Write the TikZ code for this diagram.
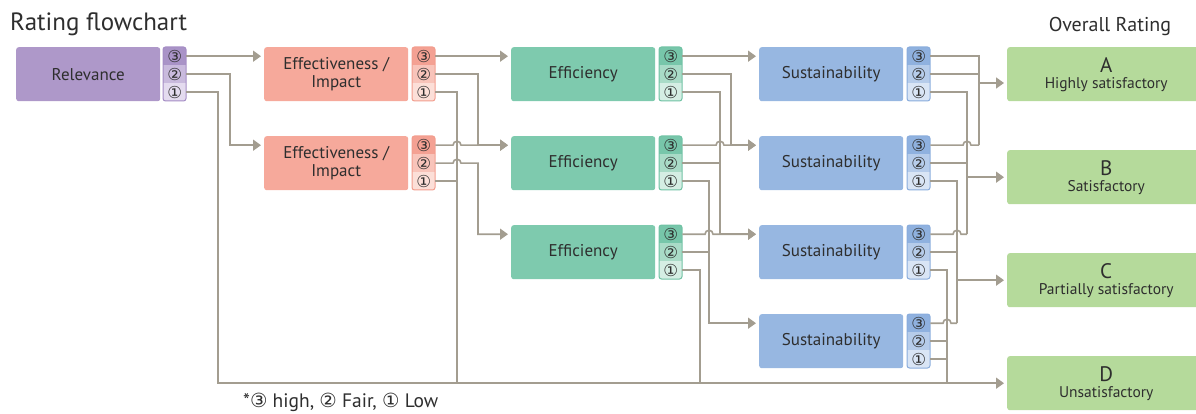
\documentclass[tikz,border=0pt]{standalone}
\usepackage{fontspec}
\setmainfont{PT Sans}
\newfontfamily\dvs{DejaVu Sans}
\usetikzlibrary{arrows.meta,calc}
\definecolor{txt}{HTML}{2E2E2E}
\definecolor{ln}{HTML}{A39D90}
\definecolor{relF}{HTML}{AE98C9}\definecolor{relB}{HTML}{A48CC4}
\definecolor{relC}{HTML}{A993C7}\definecolor{relD}{HTML}{C9BADD}\definecolor{relE}{HTML}{E4DBEF}
\definecolor{eiF}{HTML}{F6A99B}\definecolor{eiB}{HTML}{F29D8D}
\definecolor{eiC}{HTML}{F4A193}\definecolor{eiD}{HTML}{F8C4BA}\definecolor{eiE}{HTML}{FCDFD8}
\definecolor{efF}{HTML}{7ECAAE}\definecolor{efB}{HTML}{6FC2A3}
\definecolor{efC}{HTML}{77C6AA}\definecolor{efD}{HTML}{A9DBC7}\definecolor{efE}{HTML}{D5EEE4}
\definecolor{suF}{HTML}{97B7E1}\definecolor{suB}{HTML}{89ACDC}
\definecolor{suC}{HTML}{8FB1DF}\definecolor{suD}{HTML}{B6CCEA}\definecolor{suE}{HTML}{D9E5F5}
\definecolor{rtF}{HTML}{B5DA9B}
\newcommand\mkbadge[4]{%
  \begin{scope}
    \clip[rounded corners=2.5pt] (#2,#3) rectangle ++(23,54);
    \node[badge,fill=#4C] (#1r3) at (#2,#3) {③};
    \node[badge,fill=#4D] (#1r2) at (#2,#3+18) {②};
    \node[badge,fill=#4E] (#1r1) at (#2,#3+36) {①};
  \end{scope}
  \draw[draw=#4B, line width=1pt, rounded corners=2.5pt] (#2,#3) rectangle ++(23,54);
}
\begin{document}
\begin{tikzpicture}[x=1pt,y=-1pt,
  box/.style={rounded corners=2.5pt, minimum width=144pt, minimum height=54pt, anchor=north west,
    inner sep=0pt, align=center, text=txt, font=\fontsize{17}{18}\selectfont},
  rbox/.style={rounded corners=2.5pt, minimum width=198pt, minimum height=54pt, anchor=north west,
    inner sep=0pt, align=center, text=txt, fill=rtF, font=\fontsize{15.5}{16}\selectfont},
  badge/.style={minimum width=23pt, minimum height=18pt, anchor=north west, inner sep=0pt,
    text=txt, font=\dvs\fontsize{16.5}{16.5}\selectfont},
  link/.style={draw=ln, line width=1.6pt},
  arr/.style={link, -{Triangle[length=8pt,width=11pt]}, shorten >=3pt}]
\useasboundingbox (0,0) rectangle (1196,414);
\clip (0,0) rectangle (1196,414);

\node[anchor=base west, inner sep=0pt, text=txt, font=\fontsize{25}{25}\selectfont] (title) at (10,31) {Rating flowchart};
\node[anchor=base, inner sep=0pt, text=txt, font=\fontsize{20}{20}\selectfont] (ovr) at (1110,32) {Overall Rating};

% boxes
\node[box, fill=relF] (rel) at (16,47) {Relevance};
\mkbadge{rel}{163}{47}{rel}
\node[box, fill=eiF] (eia) at (264,47) {Effectiveness /\\Impact};
\mkbadge{eia}{412}{47}{ei}
\node[box, fill=eiF] (eib) at (264,136) {Effectiveness /\\Impact};
\mkbadge{eib}{412}{136}{ei}
\node[box, fill=efF] (efa) at (511,47) {Efficiency};
\mkbadge{efa}{659}{47}{ef}
\node[box, fill=efF] (efb) at (511,136) {Efficiency};
\mkbadge{efb}{659}{136}{ef}
\node[box, fill=efF] (efc) at (511,225) {Efficiency};
\mkbadge{efc}{659}{225}{ef}
\node[box, fill=suF] (sua) at (759,47) {Sustainability};
\mkbadge{sua}{907}{47}{su}
\node[box, fill=suF] (sub) at (759,136) {Sustainability};
\mkbadge{sub}{907}{136}{su}
\node[box, fill=suF] (suc) at (759,225) {Sustainability};
\mkbadge{suc}{907}{225}{su}
\node[box, fill=suF] (sud) at (759,314) {Sustainability};
\mkbadge{sud}{907}{314}{su}

\node[rbox] (rA) at (1007,47) {{\fontsize{21}{16}\selectfont A}\\Highly satisfactory};
\node[rbox] (rB) at (1007,150) {{\fontsize{21}{16}\selectfont B}\\Satisfactory};
\node[rbox] (rC) at (1007,253) {{\fontsize{21}{16}\selectfont C}\\Partially satisfactory};
\node[rbox] (rD) at (1007,356) {{\fontsize{21}{16}\selectfont D}\\Unsatisfactory};

% bus columns
\coordinate (tA) at (230,0); \coordinate (tB) at (218,0);
\coordinate (uA) at (478,0); \coordinate (uB) at (457,0);
\coordinate (wA) at (731,0); \coordinate (wB) at (720,0);
\coordinate (wC) at (709,0); \coordinate (wD) at (700,0);
\coordinate (vA) at (979,83); \coordinate (vB) at (967,0);
\coordinate (vC) at (957,0); \coordinate (vD) at (947,0);

% stage 1
\draw[arr] (relr3.east) -- (eia.west |- relr3);
\draw[arr] (relr2.east) -- (tA |- relr2) |- (eib.west |- eibr3);
\draw[arr] (relr1.east) -- (tB |- relr1) |- (rD.west);

% stage 2
\draw[arr] (eiar3.east) -- (efa.west |- eiar3);
\draw[arr] (eiar2.east) -- (uA |- eiar2) |- (efb.west |- efbr3);
\draw[link] (eiar1.east) -- (uB |- eiar1) -- (uB |- rD.west);
\draw[arr] (eibr3.east) -- ($(uB |- eibr3)+(-4,0)$) arc[start angle=180,end angle=0,radius=4pt] -- (efb.west |- eibr3);
\draw[arr] (eibr2.east) -- ($(uB |- eibr2)+(-4,0)$) arc[start angle=180,end angle=0,radius=4pt] -- (uA |- eibr2) |- (efc.west |- efcr3);
\draw[link] (eibr1.east) -- (uB |- eibr1);

% stage 3
\draw[arr] (efar3.east) -- (sua.west |- efar3);
\draw[arr] (efar2.east) -- (wA |- efar2) |- (sub.west |- subr3);
\draw[arr] (efar1.east) -- (wB |- efar1) |- (suc.west |- sucr3);
\draw[arr] (efbr3.east) -- ($(wB |- efbr3)+(-4,0)$) arc[start angle=180,end angle=0,radius=4pt] -- (sub.west |- efbr3);
\draw[link] (efbr2.east) -- (wB |- efbr2);
\draw[arr] (efbr1.east) -- (wC |- efbr1) |- (sud.west |- sudr3);
\draw[arr] (efcr3.east) -- ($(wC |- efcr3)+(-4,0)$) arc[start angle=180,end angle=0,radius=4pt] -- (suc.west |- efcr3);
\draw[link] (efcr2.east) -- (wC |- efcr2);
\draw[link] (efcr1.east) -- (wD |- efcr1) -- (wD |- rD.west);

% stage 4
\draw[link] (suar3.east) -- (vA |- suar3) -- (vA |- subr3);
\draw[link] (suar2.east) -- (vA |- suar2);
\draw[link] (suar1.east) -- (vB |- suar1) -- (vB |- sucr3);
\draw[link] (subr3.east) -- ($(vB |- subr3)+(-4,0)$) arc[start angle=180,end angle=0,radius=4pt] -- (vA |- subr3);
\draw[link] (subr2.east) -- (vB |- subr2);
\draw[link] (subr1.east) -- (vC |- subr1) -- (vC |- sudr3);
\draw[link] (sucr3.east) -- ($(vC |- sucr3)+(-4,0)$) arc[start angle=180,end angle=0,radius=4pt] -- (vB |- sucr3);
\draw[link] (sucr2.east) -- (vC |- sucr2);
\draw[link] (sucr1.east) -- (vD |- sucr1) -- (vD |- rD.west);
\draw[link] (sudr3.east) -- ($(vD |- sudr3)+(-4,0)$) arc[start angle=180,end angle=0,radius=4pt] -- (vC |- sudr3);
\draw[link] (sudr2.east) -- (vD |- sudr2);
\draw[link] (sudr1.east) -- (vD |- sudr1);
\draw[arr] (vA) -- (vA -| rA.west);
\draw[arr] (vB |- rB.west) -- (rB.west);
\draw[arr] (vC |- rC.west) -- (rC.west);

\node[anchor=base west, inner sep=0pt, text=txt, font=\fontsize{19.5}{19.5}\selectfont] (note) at (243,407)
  {*{\dvs\fontsize{19.5}{19.5}\selectfont ③} high, {\dvs\fontsize{19.5}{19.5}\selectfont ②} Fair, {\dvs\fontsize{19.5}{19.5}\selectfont ①} Low};
\end{tikzpicture}
\end{document}
